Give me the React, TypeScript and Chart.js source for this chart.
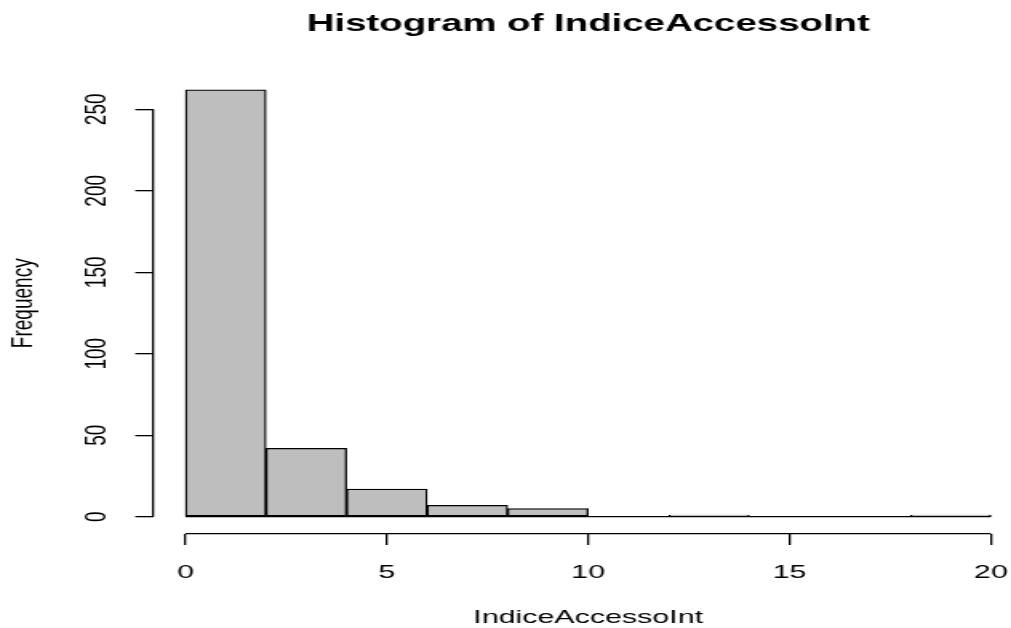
import { useEffect, useRef } from "react";
import { Chart, registerables } from "chart.js";

Chart.register(...registerables);

// Histogram bins (left edges, width) and their counts
const binStarts = [0, 2, 4, 6, 8, 10, 12, 14, 16, 18];
const binWidth = 2;
const counts = [262, 42, 17, 7, 5, 0, 1, 0, 0, 1];

// Axis tick positions
const xTicks = [0, 5, 10, 15, 20];
const yTicks = [0, 50, 100, 150, 200, 250];

// Text
const mainTitle = "Histogram of IndiceAccessoInt";
const xTitle = "IndiceAccessoInt";
const yTitle = "Frequency";

const FONT = '"Liberation Sans", Arial, Helvetica, sans-serif';
const CANVAS_W = 632;
const CANVAS_H = 628;
const STRETCH = 1011 / CANVAS_W;

// R-style 4% range extension
const xLo = binStarts[0];
const xHi = binStarts[binStarts.length - 1] + binWidth;
const xPad = (xHi - xLo) * 0.04;
const yHi = Math.max(...counts);
const yPad = yHi * 0.04;

const LINE = 1.3;
const TICK_LEN = 11.25;

const align = (v: number, w: number) => Math.round(v - w / 2) + w / 2;

// Draws the R-style axis lines (first tick to last tick), baseline, main and x titles
const baseAxesPlugin = {
  id: "baseAxes",
  beforeDatasetsDraw(chart: any) {
    const { ctx, scales } = chart;
    const xs = scales.x;
    const ys = scales.y;
    const y0 = align(ys.getPixelForValue(0), LINE);
    ctx.save();
    ctx.strokeStyle = "#000";
    ctx.lineWidth = LINE;
    ctx.beginPath();
    ctx.moveTo(xs.getPixelForValue(xLo), y0);
    ctx.lineTo(xs.getPixelForValue(xHi), y0);
    ctx.stroke();
    ctx.restore();
  },
  afterDraw(chart: any) {
    const { ctx, scales, chartArea } = chart;
    const xs = scales.x;
    const ys = scales.y;
    ctx.save();
    ctx.strokeStyle = "#000";
    ctx.lineWidth = LINE;
    // y axis line
    const ax = align(chartArea.left, LINE);
    ctx.beginPath();
    ctx.moveTo(ax, ys.getPixelForValue(yTicks[0]));
    ctx.lineTo(ax, ys.getPixelForValue(yTicks[yTicks.length - 1]));
    ctx.stroke();
    // x axis line
    const ay = align(chartArea.bottom, LINE);
    ctx.beginPath();
    ctx.moveTo(xs.getPixelForValue(xTicks[0]), ay);
    ctx.lineTo(xs.getPixelForValue(xTicks[xTicks.length - 1]), ay);
    ctx.stroke();

    // titles centred over the plot region
    const cx = (xs.getPixelForValue(xLo - xPad) + xs.getPixelForValue(xHi + xPad)) / 2;
    ctx.fillStyle = "#000";
    ctx.textAlign = "center";
    ctx.textBaseline = "middle";
    ctx.font = `bold 24px ${FONT}`;
    ctx.fillText(mainTitle, cx, 24);
    ctx.font = `19px ${FONT}`;
    ctx.fillText(xTitle, cx, 618);
    ctx.restore();
  },
};

export default function App() {
  const canvasRef = useRef<HTMLCanvasElement | null>(null);

  useEffect(() => {
    const canvas = canvasRef.current;
    if (!canvas) return;

    const chart = new Chart(canvas, {
      type: "bar",
      data: {
        datasets: [
          {
            data: binStarts.map((s, i) => ({ x: s + binWidth / 2, y: counts[i] })),
            backgroundColor: "#BEBEBE",
            borderColor: "#000",
            borderWidth: LINE,
            borderSkipped: false,
            barPercentage: 1,
            categoryPercentage: 1,
          },
        ],
      },
      options: {
        animation: false,
        responsive: false,
        maintainAspectRatio: false,
        layout: { autoPadding: false, padding: { top: 72.7, left: 0, right: 0, bottom: 0 } },
        plugins: {
          legend: { display: false },
          title: { display: false },
          tooltip: { enabled: false },
        },
        scales: {
          x: {
            type: "linear",
            offset: false,
            min: xLo - xPad,
            max: 20.5,
            afterBuildTicks: (scale: any) => {
              scale.ticks = xTicks.map((v) => ({ value: v }));
            },
            afterFit: (scale: any) => {
              scale.height = CANVAS_H - 533.8;
              scale.paddingLeft = 0;
              scale.paddingRight = 0;
            },
            border: { display: false },
            grid: {
              offset: false,
              drawOnChartArea: false,
              drawTicks: true,
              tickLength: TICK_LEN,
              color: "#000",
              lineWidth: LINE,
            },
            ticks: {
              font: { family: FONT, size: 19 },
              color: "#000",
              padding: 16,
              maxRotation: 0,
              autoSkip: false,
            },
          },
          y: {
            type: "linear",
            min: -yPad,
            max: yHi + yPad,
            afterBuildTicks: (scale: any) => {
              scale.ticks = yTicks.map((v) => ({ value: v }));
            },
            afterFit: (scale: any) => {
              scale.width = 95.8;
              scale.paddingTop = 0;
              scale.paddingBottom = 0;
            },
            border: { display: false },
            grid: {
              drawOnChartArea: false,
              drawTicks: true,
              tickLength: TICK_LEN,
              color: "#000",
              lineWidth: LINE,
            },
            ticks: {
              font: { family: FONT, size: 19 },
              color: "#000",
              padding: 7.5,
              minRotation: 90,
              maxRotation: 90,
              crossAlign: "center",
              autoSkip: false,
            },
            title: {
              display: true,
              text: yTitle,
              font: { family: FONT, size: 19 },
              color: "#000",
              padding: { top: 3.2, bottom: 0 },
            },
          },
        },
      },
      plugins: [baseAxesPlugin],
    } as any);

    return () => chart.destroy();
  }, []);

  return (
    <div
      style={{
        position: "absolute",
        left: 0,
        top: 0,
        width: 1011,
        height: 628,
        overflow: "hidden",
        background: "#fff",
      }}
    >
      <canvas
        ref={canvasRef}
        width={CANVAS_W}
        height={CANVAS_H}
        style={{
          display: "block",
          width: CANVAS_W,
          height: CANVAS_H,
          transform: `scaleX(${STRETCH})`,
          transformOrigin: "0 0",
        }}
      />
    </div>
  );
}
